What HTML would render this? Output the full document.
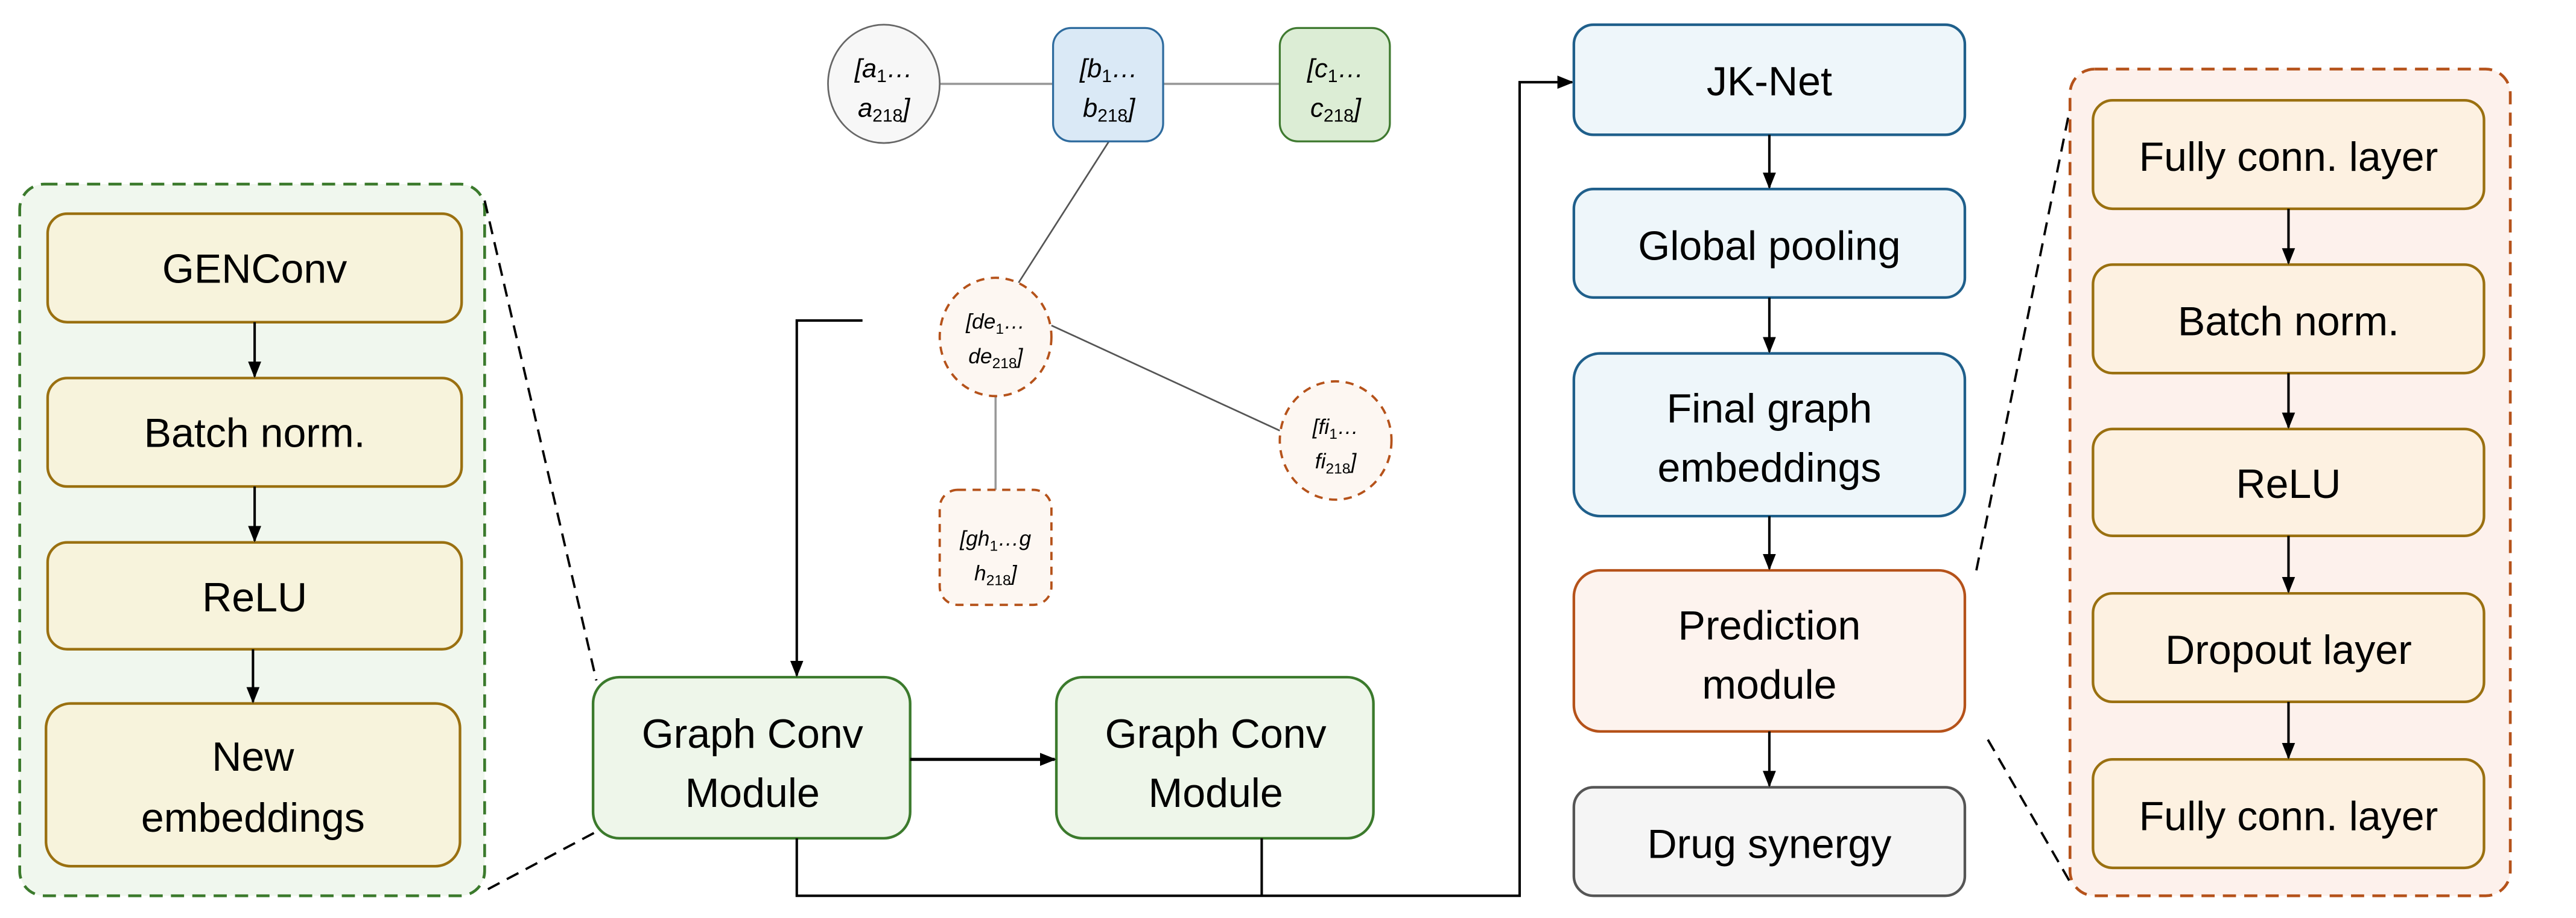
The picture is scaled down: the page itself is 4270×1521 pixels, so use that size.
<!DOCTYPE html>
<html><head><meta charset="utf-8"><style>
html,body{margin:0;padding:0;background:#fff;}
svg{display:block;}
text{font-family:"Liberation Sans",sans-serif;fill:#000;}
.t{font-size:25px;text-anchor:middle;}
.n{font-size:16px;font-style:italic;text-anchor:middle;}
.s{font-size:11px;font-style:normal;}
</style></head><body>
<svg width="4270" height="1521" viewBox="0 0 1568 558.5" xmlns="http://www.w3.org/2000/svg">
<defs>
<marker id="ar" markerWidth="10" markerHeight="10" refX="9" refY="5" orient="auto" markerUnits="userSpaceOnUse">
<path d="M0,1 L10,5 L0,9 z" fill="#000"/></marker>
</defs>

<rect x="12" y="112" width="283" height="433" rx="15" fill="#f0f7ee" stroke="#3b7a2c" stroke-width="1.7" stroke-dasharray="8,5"/>
<g fill="#f7f3dc" stroke="#9a7010" stroke-width="1.6">
<rect x="29" y="130" width="252" height="66" rx="12"/>
<rect x="29" y="230" width="252" height="66" rx="12"/>
<rect x="29" y="330" width="252" height="65" rx="12"/>
<rect x="28" y="428" width="252" height="99" rx="15"/>
</g>
<text class="t" x="155" y="172">GENConv</text>
<text class="t" x="155" y="272">Batch norm.</text>
<text class="t" x="155" y="372">ReLU</text>
<text class="t" x="154" y="469">New</text>
<text class="t" x="154" y="506">embeddings</text>
<g stroke="#000" stroke-width="1.5" marker-end="url(#ar)">
<line x1="155" y1="196" x2="155" y2="229"/>
<line x1="155" y1="296" x2="155" y2="329"/>
<line x1="154" y1="395" x2="154" y2="427"/>
</g>

<g stroke="#000" stroke-width="1.4" stroke-dasharray="8,5" fill="none">
<line x1="295" y1="122" x2="363" y2="414"/>
<line x1="297" y1="541" x2="363" y2="506"/>
</g>

<g fill="#eef6ea" stroke="#3b7a2c" stroke-width="1.6">
<rect x="361" y="412" width="193" height="98" rx="16"/>
<rect x="643" y="412" width="193" height="98" rx="16"/>
</g>
<text class="t" x="458" y="455">Graph Conv</text>
<text class="t" x="458" y="491">Module</text>
<text class="t" x="740" y="455">Graph Conv</text>
<text class="t" x="740" y="491">Module</text>
<line x1="554" y1="462" x2="642" y2="462" stroke="#000" stroke-width="1.9" marker-end="url(#ar)"/>

<polyline points="525,195 485,195 485,411" fill="none" stroke="#000" stroke-width="1.5" marker-end="url(#ar)"/>
<polyline points="485,510 485,545 925,545 925,50 957,50" fill="none" stroke="#000" stroke-width="1.5" marker-end="url(#ar)"/>
<line x1="768" y1="510" x2="768" y2="545" stroke="#000" stroke-width="1.5"/>

<g stroke="#999" stroke-width="1.3">
<line x1="572" y1="51" x2="641" y2="51"/>
<line x1="708" y1="51" x2="779" y2="51"/>
<line x1="606" y1="241" x2="606" y2="298"/>
</g>
<g stroke="#555" stroke-width="1">
<line x1="675" y1="86" x2="620" y2="172"/>
<line x1="640" y1="198" x2="779" y2="262"/>
</g>
<ellipse cx="538" cy="51" rx="34" ry="36" fill="#f7f7f7" stroke="#666" stroke-width="1"/>
<rect x="641" y="17" width="67" height="69" rx="11" fill="#dae9f6" stroke="#2e6b9e" stroke-width="1.2"/>
<rect x="779" y="17" width="67" height="69" rx="11" fill="#dcedd5" stroke="#3f7a30" stroke-width="1.2"/>
<g fill="#fdf7f2" stroke="#b5521a" stroke-width="1.4" stroke-dasharray="5,4">
<ellipse cx="606" cy="205" rx="34" ry="36"/>
<ellipse cx="813" cy="268" rx="34" ry="36"/>
<rect x="572" y="298" width="68" height="70" rx="11"/>
</g>
<text class="n" x="538" y="47">[a<tspan class="s" dy="3">1</tspan><tspan dy="-3">…</tspan></text>
<text class="n" x="538" y="71">a<tspan class="s" dy="3">218</tspan><tspan dy="-3">]</tspan></text>
<text class="n" x="675" y="47">[b<tspan class="s" dy="3">1</tspan><tspan dy="-3">…</tspan></text>
<text class="n" x="675" y="71">b<tspan class="s" dy="3">218</tspan><tspan dy="-3">]</tspan></text>
<text class="n" x="813" y="47">[c<tspan class="s" dy="3">1</tspan><tspan dy="-3">…</tspan></text>
<text class="n" x="813" y="71">c<tspan class="s" dy="3">218</tspan><tspan dy="-3">]</tspan></text>
<text class="n" x="606" y="200" style="font-size:13px">[de<tspan class="s" style="font-size:9px" dy="3">1</tspan><tspan dy="-3">…</tspan></text>
<text class="n" x="606" y="221" style="font-size:13px">de<tspan class="s" style="font-size:9px" dy="3">218</tspan><tspan dy="-3">]</tspan></text>
<text class="n" x="813" y="264" style="font-size:13px">[fi<tspan class="s" style="font-size:9px" dy="3">1</tspan><tspan dy="-3">…</tspan></text>
<text class="n" x="813" y="285" style="font-size:13px">fi<tspan class="s" style="font-size:9px" dy="3">218</tspan><tspan dy="-3">]</tspan></text>
<text class="n" x="606" y="332" style="font-size:13px">[gh<tspan class="s" style="font-size:9px" dy="3">1</tspan><tspan dy="-3">…g</tspan></text>
<text class="n" x="606" y="353" style="font-size:13px">h<tspan class="s" style="font-size:9px" dy="3">218</tspan><tspan dy="-3">]</tspan></text>

<g stroke-width="1.6">
<rect x="958" y="15" width="238" height="67" rx="12" fill="#eef6fa" stroke="#1f5f8b"/>
<rect x="958" y="115" width="238" height="66" rx="12" fill="#eef6fa" stroke="#1f5f8b"/>
<rect x="958" y="215" width="238" height="99" rx="16" fill="#eef6fa" stroke="#1f5f8b"/>
<rect x="958" y="347" width="238" height="98" rx="16" fill="#fdf3ee" stroke="#b5521a"/>
<rect x="958" y="479" width="238" height="66" rx="12" fill="#f5f5f5" stroke="#555"/>
</g>
<text class="t" x="1077" y="58">JK-Net</text>
<text class="t" x="1077" y="158">Global pooling</text>
<text class="t" x="1077" y="257">Final graph</text>
<text class="t" x="1077" y="293">embeddings</text>
<text class="t" x="1077" y="389">Prediction</text>
<text class="t" x="1077" y="425">module</text>
<text class="t" x="1077" y="522">Drug synergy</text>
<g stroke="#000" stroke-width="1.5" marker-end="url(#ar)">
<line x1="1077" y1="82" x2="1077" y2="114"/>
<line x1="1077" y1="181" x2="1077" y2="214"/>
<line x1="1077" y1="314" x2="1077" y2="346"/>
<line x1="1077" y1="445" x2="1077" y2="478"/>
</g>

<g stroke="#000" stroke-width="1.4" stroke-dasharray="8,5" fill="none">
<line x1="1203" y1="347" x2="1262" y2="56"/>
<line x1="1210" y1="450" x2="1262" y2="540"/>
</g>

<rect x="1260" y="42" width="268" height="503" rx="15" fill="#fdf1ec" stroke="#b5521a" stroke-width="1.7" stroke-dasharray="8,5"/>
<g fill="#fdf1e1" stroke="#9a7010" stroke-width="1.6">
<rect x="1274" y="61" width="238" height="66" rx="12"/>
<rect x="1274" y="161" width="238" height="66" rx="12"/>
<rect x="1274" y="261" width="238" height="65" rx="12"/>
<rect x="1274" y="361" width="238" height="66" rx="12"/>
<rect x="1274" y="462" width="238" height="66" rx="12"/>
</g>
<text class="t" x="1393" y="104">Fully conn. layer</text>
<text class="t" x="1393" y="204">Batch norm.</text>
<text class="t" x="1393" y="303">ReLU</text>
<text class="t" x="1393" y="404">Dropout layer</text>
<text class="t" x="1393" y="505">Fully conn. layer</text>
<g stroke="#000" stroke-width="1.5" marker-end="url(#ar)">
<line x1="1393" y1="127" x2="1393" y2="160"/>
<line x1="1393" y1="227" x2="1393" y2="260"/>
<line x1="1393" y1="326" x2="1393" y2="360"/>
<line x1="1393" y1="427" x2="1393" y2="461"/>
</g>
</svg>
</body></html>
